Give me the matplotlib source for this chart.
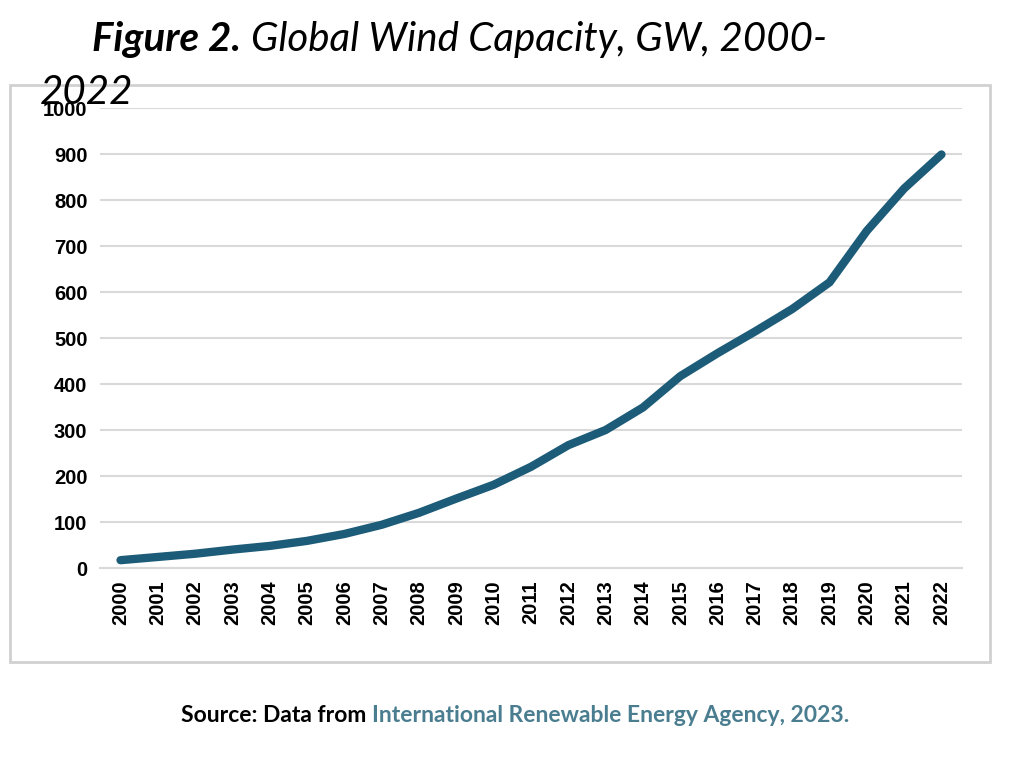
import matplotlib
matplotlib.use("Agg")
import matplotlib.pyplot as plt
from matplotlib.patches import Rectangle

years = list(range(2000, 2023))
capacity = [17, 24, 31, 40, 48, 59, 74, 94, 120, 151, 181, 220, 267, 300, 349, 417, 467, 514, 563, 621, 733, 825, 899]
yticks = list(range(0, 1001, 100))

fig = plt.figure(figsize=(10.24, 7.68), dpi=100)
fig.patches.append(Rectangle((10/1024, 1-662/768), 980/1024, 577/768, transform=fig.transFigure,
                             fill=False, edgecolor="#d0d0d0", linewidth=2))
ax = fig.add_axes([100/1024, 1-568/768, 862/1024, 460/768])
ax.plot(years, capacity, color="#1d5c78", linewidth=6, solid_capstyle="round", solid_joinstyle="round")
ax.set_ylim(0, 1000)
ax.set_xlim(1999.45, 2022.55)
ax.set_yticks(yticks)
ax.set_xticks(years)
ax.set_xticklabels([str(y) for y in years], rotation=90)
ax.grid(axis="y", color="#d9d9d9", linewidth=1.5)
ax.set_axisbelow(True)
for s in ["top", "right", "left"]:
    ax.spines[s].set_visible(False)
ax.spines["bottom"].set_color("#d9d9d9")
ax.spines["bottom"].set_linewidth(1.5)
ax.tick_params(length=0, pad=9)
for lab in ax.get_xticklabels() + ax.get_yticklabels():
    lab.set_fontfamily("Liberation Sans")
    lab.set_fontweight("bold")
    lab.set_fontsize(14.5)

t0 = fig.text(92/1024, 1-40/768, "Figure 2.", fontfamily="Lato", fontstyle="italic", fontweight="bold",
              fontsize=29, va="center", ha="left")
fig.canvas.draw()
b0 = t0.get_window_extent()
fig.text((b0.x1 + 10)/1024, 1-40/768, "Global Wind Capacity, GW, 2000-", fontfamily="Lato", fontstyle="italic",
         fontsize=29, va="center", ha="left")
fig.text(40/1024, 1-93/768, "2022", fontfamily="Lato", fontstyle="italic", fontsize=29, va="center", ha="left")

t1 = fig.text(181/1024, 1-716/768, "Source: Data from ", fontfamily="Lato", fontweight="bold",
              fontsize=16.5, va="center", ha="left")
fig.canvas.draw()
bb = t1.get_window_extent()
fig.text(bb.x1/1024, 1-716/768, "International Renewable Energy Agency, 2023.", fontfamily="Lato",
         fontweight="bold", fontsize=16.5, color="#4a7d8f", va="center", ha="left")
fig.savefig("out.png", dpi=100)
